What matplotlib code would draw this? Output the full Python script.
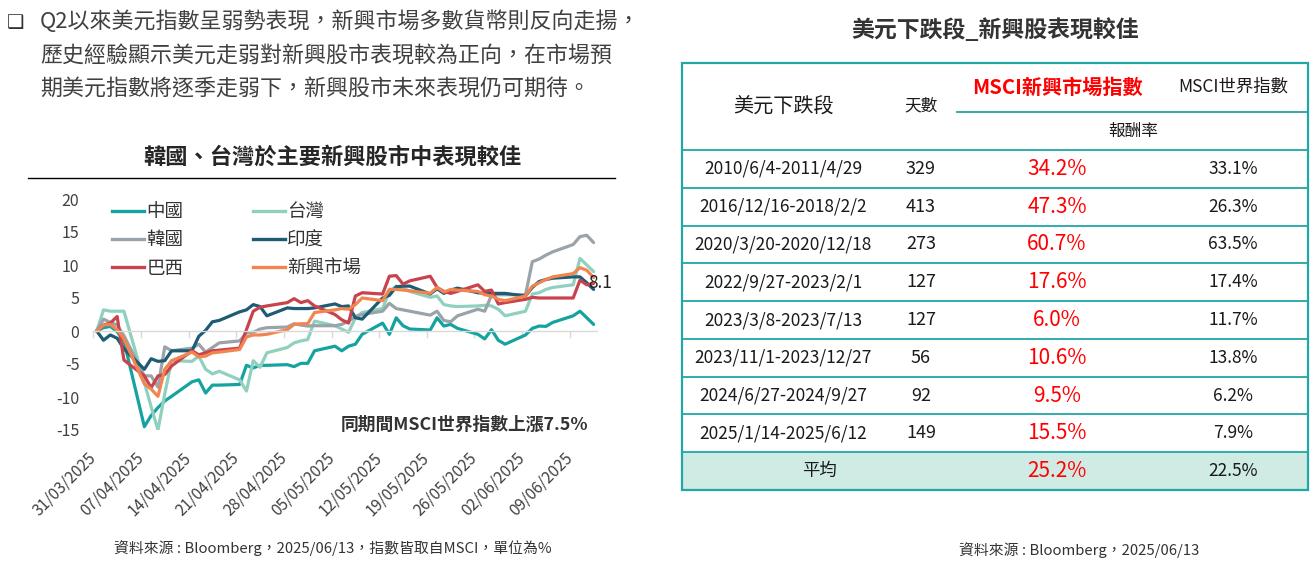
import matplotlib
matplotlib.use('Agg')
import matplotlib.pyplot as plt
import pandas as pd
from matplotlib.lines import Line2D
from matplotlib.patches import Rectangle

plt.rcParams['font.family'] = ['Noto Sans CJK TC', 'DejaVu Sans']
plt.rcParams['axes.unicode_minus'] = False

# ---------------- data ----------------
trade_dates = pd.bdate_range('2025-03-31', '2025-06-12')

china = [0, 0.5, 0.7, -0.1, -1.5,
         -14.5, -12.8, -11.6, -10.6, -9.9,
         -7.7, -7.4, -9.4, -8.2, -8.2,
         -8.1, -5.2, -5.6, -5.2, -5.2,
         -5.1, -5.4, -4.9, -4.9, -3.0,
         -2.3, -3.0, -2.3, -2.0, -0.5,
         1.2, -0.5, 2.0, 0.8, 0.3,
         0.15, 2.0, 0.75, 1.0, 0.4,
         -0.5, -1.2, 0.2, -1.4, -2.0,
         -0.6, 0.4, 0.75, 0.7, 1.3,
         2.3, 3.0, 2.0, 1.0]
taiwan = [0, 3.2, 3.0, 3.0, 3.0,
          -7.8, -11.5, -15.0, -9.5, -4.5,
          -4.6, -3.8, -5.8, -6.5, -6.1,
          -7.4, -9.1, -4.5, -5.5, -3.3,
          -2.5, -1.8, -1.5, -1.3, 1.5,
          0.8, 0.3, -0.2, 2.0, 2.8,
          3.4, 6.0, 6.8, 6.5, 6.0,
          5.1, 5.3, 4.0, 3.8, 3.7,
          3.8, 3.9, 3.8, 3.3, 2.3,
          3.0, 5.6, 5.8, 6.3, 6.6,
          7.0, 11.0, 10.0, 9.0]
korea = [0, 1.8, 1.3, 0.9, -0.7,
         -6.8, -6.8, -8.5, -2.4, -3.0,
         -2.6, -2.0, -3.2, -2.5, -1.8,
         -1.5, -0.3, -0.2, 0.3, 0.5,
         0.6, 1.1, 0.9, 0.75, 0.8,
         0.8, 1.0, 1.5, 2.2, 2.5,
         3.0, 4.2, 3.4, 3.2, 3.0,
         2.4, 3.0, 1.6, 1.4, 2.3,
         3.3, 3.0, 5.4, 5.5, 5.5,
         5.5, 10.5, 10.9, 11.5, 12.0,
         13.1, 14.3, 14.5, 13.4]
india = [0, -1.4, -0.6, -1.1, -2.7,
         -5.8, -4.2, -4.6, -4.5, -3.0,
         -3.0, -0.8, 0.1, 1.4, 1.6,
         2.9, 3.2, 4.0, 3.7, 2.3,
         3.5, 3.4, 3.4, 3.4, 3.5,
         4.1, 3.7, 3.8, 2.0, 1.8,
         5.0, 5.4, 6.7, 6.8, 6.8,
         5.6, 6.4, 5.7, 6.2, 6.5,
         5.8, 5.7, 5.7, 5.7, 5.7,
         5.3, 6.6, 7.5, 7.8, 8.0,
         8.2, 8.2, 7.3, 6.3]
brazil = [0, 0.9, 1.2, 2.2, -4.4,
          -6.8, -8.6, -6.8, -6.6, -5.3,
          -3.0, -3.6, -3.3, -3.0, -2.9,
          -2.6, 0.2, 3.0, 3.6, 3.8,
          4.3, 4.9, 4.3, 4.6, 3.8,
          2.5, 1.7, 1.2, 5.3, 5.8,
          5.6, 8.3, 8.4, 7.1, 7.6,
          8.3, 6.6, 6.0, 5.7, 6.0,
          7.0, 6.0, 6.2, 4.1, 4.3,
          4.8, 5.1, 5.0, 5.0, 5.0,
          5.0, 7.7, 7.0, 7.2]
em = [0, 0.9, 1.0, 0.2, -1.2,
      -8.0, -8.8, -9.9, -5.8, -4.5,
      -3.2, -3.9, -3.8, -3.3, -3.2,
      -2.8, -0.9, -0.6, -0.6, -0.5,
      0.2, 1.0, 1.1, 1.1, 2.8,
      3.2, 3.4, 3.3, 4.0, 5.0,
      4.6, 6.3, 6.3, 6.2, 6.1,
      5.7, 6.6, 5.9, 6.3, 6.2,
      6.0, 5.5, 5.3, 4.8, 4.6,
      5.3, 6.8, 7.3, 7.8, 8.2,
      8.7, 9.6, 9.2, 8.1]

series_names = ['中國', '台灣', '韓國', '印度', '巴西', '新興市場']
series_vals = [china, taiwan, korea, india, brazil, em]
series_colors = ['#14a3a0', '#8fd1be', '#99a3a9', '#1d5c73', '#c8434c', '#f2844f']

tick_labels = ['31/03/2025', '07/04/2025', '14/04/2025', '21/04/2025', '28/04/2025',
               '05/05/2025', '12/05/2025', '19/05/2025', '26/05/2025', '02/06/2025',
               '09/06/2025']

bullet_lines = ['Q2以來美元指數呈弱勢表現，新興市場多數貨幣則反向走揚，',
                '歷史經驗顯示美元走弱對新興股市表現較為正向，在市場預',
                '期美元指數將逐季走弱下，新興股市未來表現仍可期待。']

periods = ['2010/6/4-2011/4/29', '2016/12/16-2018/2/2', '2020/3/20-2020/12/18',
           '2022/9/27-2023/2/1', '2023/3/8-2023/7/13', '2023/11/1-2023/12/27',
           '2024/6/27-2024/9/27', '2025/1/14-2025/6/12']
days = [329, 413, 273, 127, 127, 56, 92, 149]
em_ret = [34.2, 47.3, 60.7, 17.6, 6.0, 10.6, 9.5, 15.5]
world_ret = [33.1, 26.3, 63.5, 17.4, 11.7, 13.8, 6.2, 7.9]
avg_em = 25.2
avg_world = 22.5

# ---------------- figure ----------------
W, H = 1314, 561
fig = plt.figure(figsize=(W / 100, H / 100), dpi=100)

start = pd.Timestamp('2025-03-31')
xpos = (trade_dates - start).days.values + 0.5
tick_pos = [(pd.Timestamp(d[6:] + '-' + d[3:5] + '-' + d[:2]) - start).days for d in tick_labels]

ax = fig.add_axes([93.3 / W, 1 - 430 / H, (597 - 93.3) / W, (430 - 199) / H])
ax.set_xlim(0, 74)
ax.set_ylim(-15, 20)
ax.set_facecolor('none')
for s in ['left', 'top', 'right']:
    ax.spines[s].set_visible(False)
ax.spines['bottom'].set_position(('data', 0))
ax.spines['bottom'].set_color('#d9d9d9')
ax.spines['bottom'].set_linewidth(1.0)
ax.set_yticks(range(-15, 21, 5))
ax.tick_params(axis='y', length=0, pad=10, labelsize=11.5, labelcolor='#404040')
ax.set_xticks(tick_pos)
ax.tick_params(axis='x', direction='out', length=5, width=1, color='#d9d9d9', labelbottom=False)

sec = ax.secondary_xaxis('bottom')
sec.set_xticks(tick_pos)
sec.set_xticklabels(tick_labels, rotation=45, ha='right', va='center', rotation_mode='anchor')
sec.tick_params(length=0, pad=18, labelsize=11.3, labelcolor='#404040')
sec.spines['bottom'].set_visible(False)

for name, vals, col in zip(series_names, series_vals, series_colors):
    ax.plot(xpos, vals, color=col, lw=2.3, solid_joinstyle='round', solid_capstyle='round')

ax.annotate(f'{em[-1]}', xy=(xpos[-1], em[-1]), xytext=(-4, -4), textcoords='offset points',
            fontsize=12.5, color='#222222', ha='left', va='center')

order = ['中國', '韓國', '巴西', '台灣', '印度', '新興市場']
handles = [Line2D([], [], color=series_colors[series_names.index(n)], lw=2.4) for n in order]
leg = ax.legend(handles, order, ncol=2, loc='upper left',
                bbox_to_anchor=(112 / W, 1 - 203 / H), bbox_transform=fig.transFigure,
                frameon=False, fontsize=13.3, handlelength=1.75, handletextpad=0.12,
                columnspacing=3.75, labelspacing=0.56, borderpad=0, borderaxespad=0)
for t in leg.get_texts():
    t.set_color('#333333')

# ---------------- overlay (texts + table) ----------------
ov = fig.add_axes([0, 0, 1, 1], zorder=-1)
ov.set_xlim(0, W)
ov.set_ylim(H, 0)
ov.axis('off')

ov.text(7, 22, '❑', fontsize=14, family='DejaVu Sans', va='center', ha='left', color='#333333')
for i, ln in enumerate(bullet_lines):
    ov.text(40, 22 + i * 34, ln, fontsize=15.8, va='center', ha='left', color='#404040')

ov.text(332, 157, '韓國、台灣於主要新興股市中表現較佳', ha='center', va='center',
        fontsize=16, fontweight='bold', color='#262626')
ov.plot([28, 615], [178, 178], color='black', lw=1)

ov.text(588, 425, '同期間MSCI世界指數上漲7.5%', ha='right', va='center',
        fontsize=12.8, fontweight='bold', color='#333333')
ov.text(333, 548, '資料來源 : Bloomberg，2025/06/13，指數皆取自MSCI，單位為%',
        ha='center', va='center', fontsize=10.7, color='#333333')

# right side
ov.text(995, 30, '美元下跌段_新興股表現較佳', ha='center', va='center',
        fontsize=16.5, fontweight='bold', color='#333333')
ov.text(1079, 550, '資料來源 : Bloomberg，2025/06/13', ha='center', va='center',
        fontsize=10.7, color='#333333')

teal = '#22a6a6'
tl, tr, ttop, tbot = 682, 1308, 63, 490
hdr_bot = 150
nrows = len(periods) + 1
row_h = (tbot - hdr_bot) / nrows
ov.add_patch(Rectangle((tl, hdr_bot + (nrows - 1) * row_h), tr - tl, row_h,
                       facecolor='#d0ebe4', edgecolor='none'))
for k in range(nrows):
    yy = hdr_bot + k * row_h
    ov.plot([tl, tr], [yy, yy], color=teal, lw=1.3)
ov.plot([957, tr], [112, 112], color=teal, lw=1.3)
ov.add_patch(Rectangle((tl, ttop), tr - tl, tbot - ttop, facecolor='none', edgecolor=teal, lw=1.6))

c_date, c_days, c_em, c_world = 783, 921, 1057, 1233
txt = '#1a1a1a'
ov.text(c_date, 106, '美元下跌段', ha='center', va='center', fontsize=14.5, color=txt)
ov.text(c_days, 106, '天數', ha='center', va='center', fontsize=12, color=txt)
ov.text(c_em, 87, 'MSCI新興市場指數', ha='center', va='center', fontsize=14.5,
        fontweight='bold', color='#ff0000')
ov.text(c_world, 87, 'MSCI世界指數', ha='center', va='center', fontsize=12.5, color=txt)
ov.text(1133, 131, '報酬率', ha='center', va='center', fontsize=12, color=txt)

for i in range(len(periods)):
    yc = hdr_bot + (i + 0.5) * row_h
    ov.text(c_date, yc, periods[i], ha='center', va='center', fontsize=12.5, color=txt)
    ov.text(c_days, yc, str(days[i]), ha='center', va='center', fontsize=13, color=txt)
    ov.text(c_em, yc, f'{em_ret[i]:.1f}%', ha='center', va='center', fontsize=15, color='#ff0000')
    ov.text(c_world, yc, f'{world_ret[i]:.1f}%', ha='center', va='center', fontsize=12.5, color=txt)

yc = hdr_bot + (nrows - 0.5) * row_h
ov.text(819, yc, '平均', ha='center', va='center', fontsize=12.5, color=txt)
ov.text(c_em, yc, f'{avg_em:.1f}%', ha='center', va='center', fontsize=15, color='#ff0000')
ov.text(c_world, yc, f'{avg_world:.1f}%', ha='center', va='center', fontsize=12.5, color=txt)

fig.savefig('out.png', dpi=100)
